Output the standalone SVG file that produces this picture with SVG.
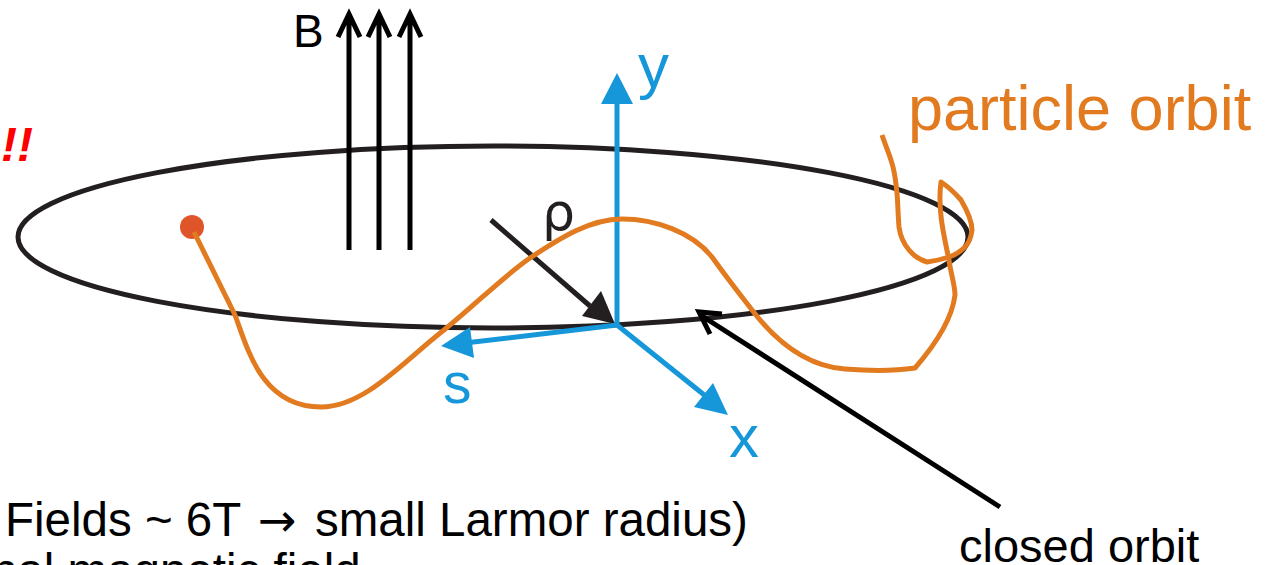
<svg xmlns="http://www.w3.org/2000/svg" width="1270" height="565" viewBox="0 0 1270 565">
<style>
text{font-family:"Liberation Sans",Arial,sans-serif}
.blk{fill:none;stroke:#000;stroke-width:5}
.blu{fill:none;stroke:#1597d9;stroke-width:5}
.org{fill:none;stroke:#e27a1f;stroke-width:5;stroke-linejoin:round}
.bt{fill:#1597d9}
.ot{fill:#e27a1f}
</style>
<rect width="1270" height="565" fill="#fff"/>
<g id="orbit-ring"><ellipse cx="493" cy="237" rx="475" ry="91" fill="none" stroke="#231f20" stroke-width="5"/></g>
<g id="connectors">
<path class="blk" d="M349 250V14M338 37L349 14L360 37M379 250V14M368 37L379 14L390 37M410 250V14M399 37L410 14L421 37"/>
<path d="M491 220L590 306" fill="none" stroke="#231f20" stroke-width="5"/>
<path d="M615 324L582 316L601 291Z" fill="#231f20"/>
<path class="blu" d="M617 325V100M617 325L465 343M617 325L708 398"/>
<path class="bt" d="M617 73L633 104H601ZM441 346L470 327L474 358ZM728 415L694 407L713 383Z"/>
<path class="blk" d="M1000 507L702 316M722 314L699 312L710 334"/>
</g>
<g id="particle">
<circle cx="192" cy="227" r="12" fill="#e0542a"/>
<path class="org" d="M194 232L235 315C248 350 262 407 321 407C365 407 405 360 444 330C475 305 505 275 530 258C560 238 590 219 622 219C655 219 692 232 712 257C730 282 742 297 752 310C775 340 805 366 845 369C870 371 895 371 915 368C935 345 952 320 955 295C955 285 950 270 949 260C945 240 937 210 941 182C950 188 955 193 961 200C968 212 972 222 972 230C971 238 969 243 965 247C960 252 955 255 949 257C940 260 935 261 927 262C920 260 914 256 909 250C904 244 900 235 899 227C898 215 898 205 897 193C896 183 895 175 893 167C890 155 886 147 882 135"/>
</g>
<g id="labels">
<text x="293" y="47" font-size="46">B</text>
<text x="638" y="87" font-size="62" class="bt">y</text>
<text x="443" y="403" font-size="57" class="bt">s</text>
<text x="729" y="457" font-size="60" class="bt">x</text>
<text x="542" y="230" font-size="52" fill="#231f20" style="font-family:'DejaVu Sans',sans-serif">ρ</text>
<text x="908" y="130" font-size="63" class="ot">particle orbit</text>
<text x="5" y="536" font-size="47.5">Fields ~ 6T <tspan x="258" style="font-family:'DejaVu Sans',sans-serif" font-size="46">→</tspan> <tspan x="315">small Larmor radius)</tspan></text>
<text x="-9" y="587" font-size="47.5">nal magnetic field</text>
<text x="959" y="562" font-size="47">closed orbit</text>
<text x="1" y="161" font-size="48" font-weight="bold" font-style="italic" fill="#f00">!!</text>
</g>
</svg>
